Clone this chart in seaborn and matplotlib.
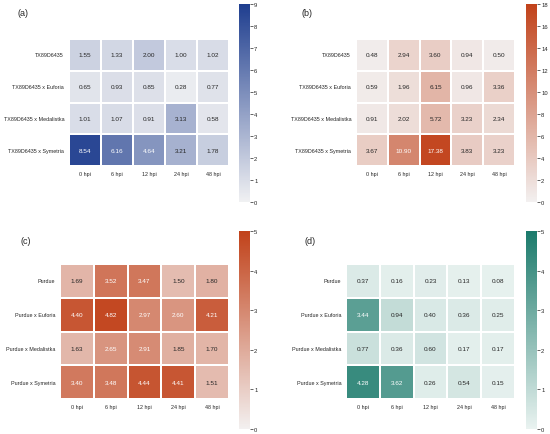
import numpy as np
import pandas as pd
import matplotlib
matplotlib.use("Agg")
import matplotlib.pyplot as plt
import seaborn as sns

sns.set_theme(style="white")
plt.rcParams["font.family"] = ["Liberation Sans", "DejaVu Sans"]

times = ["0 hpi", "6 hpi", "12 hpi", "24 hpi", "48 hpi"]
rows_tx = ["TX89D6435", "TX89D6435 x Euforia", "TX89D6435 x Medalistka", "TX89D6435 x Symetria"]
rows_pu = ["Purdue", "Purdue x Euforia", "Purdue x Medalistka", "Purdue x Symetria"]

vals_a = [
    [1.55, 1.33, 2.00, 1.00, 1.02],
    [0.65, 0.93, 0.85, 0.28, 0.77],
    [1.01, 1.07, 0.91, 3.13, 0.58],
    [8.54, 6.16, 4.64, 3.21, 1.78],
]
vals_b = [
    [0.48, 2.94, 3.60, 0.94, 0.50],
    [0.59, 1.96, 6.15, 0.96, 3.36],
    [0.91, 2.02, 5.72, 3.23, 2.34],
    [3.67, 10.90, 17.38, 3.83, 3.23],
]
vals_c = [
    [1.69, 3.52, 3.47, 1.50, 1.80],
    [4.40, 4.82, 2.97, 2.60, 4.21],
    [1.63, 2.65, 2.91, 1.85, 1.70],
    [3.40, 3.48, 4.44, 4.41, 1.51],
]
vals_d = [
    [0.37, 0.16, 0.23, 0.13, 0.08],
    [3.44, 0.94, 0.40, 0.36, 0.25],
    [0.77, 0.36, 0.60, 0.17, 0.17],
    [4.28, 3.62, 0.26, 0.54, 0.15],
]

W, H = 550, 435
fig = plt.figure(figsize=(5.5, 4.35), dpi=100)


def px_axes(x0, y0, x1, y1):
    return fig.add_axes([x0 / W, 1 - y1 / H, (x1 - x0) / W, (y1 - y0) / H])


panels = [
    ("(a)", vals_a, rows_tx, "#1f3e8f", 9, 1, (69, 40, 229, 167), (239, 5, 250, 203), (23, 13)),
    ("(b)", vals_b, rows_tx, "#c1421a", 18, 2, (356, 40, 515, 167), (526, 5, 537, 203), (307, 13)),
    ("(c)", vals_c, rows_pu, "#c1421a", 5, 1, (60, 265, 229, 400), (239, 232, 250, 430), (26, 242)),
    ("(d)", vals_d, rows_pu, "#1b7a6b", 5, 1, (346, 265, 515, 400), (526, 232, 537, 430), (310, 242)),
]

for label, vals, rows, color, vmax, step, hbox, cbox, lpos in panels:
    df = pd.DataFrame(vals, index=rows, columns=times)
    ax = px_axes(*hbox)
    cax = px_axes(*cbox)
    cmap = sns.light_palette(color, as_cmap=True)
    sns.heatmap(
        df, ax=ax, cbar_ax=cax, cmap=cmap, vmin=0, vmax=vmax,
        annot=True, fmt=".2f", annot_kws={"fontsize": 4.6},
        linewidths=0.35, linecolor="white",
    )
    ax.tick_params(axis="both", length=0, labelsize=3.9, pad=3.5)
    ax.set_yticklabels(rows, rotation=0)
    ax.set_xticklabels(times, rotation=0)
    ax.set_xlabel("")
    ax.set_ylabel("")
    cbar = ax.collections[0].colorbar
    cbar.outline.set_visible(False)
    cbar.set_ticks(np.arange(0, vmax + 1, step))
    cax.tick_params(axis="y", length=2, width=0.5, labelsize=4.2, pad=1, right=True)
    fig.text(lpos[0] / W, 1 - lpos[1] / H, label, fontsize=6.5, ha="center", va="center")

fig.savefig("out.png", dpi=100)
